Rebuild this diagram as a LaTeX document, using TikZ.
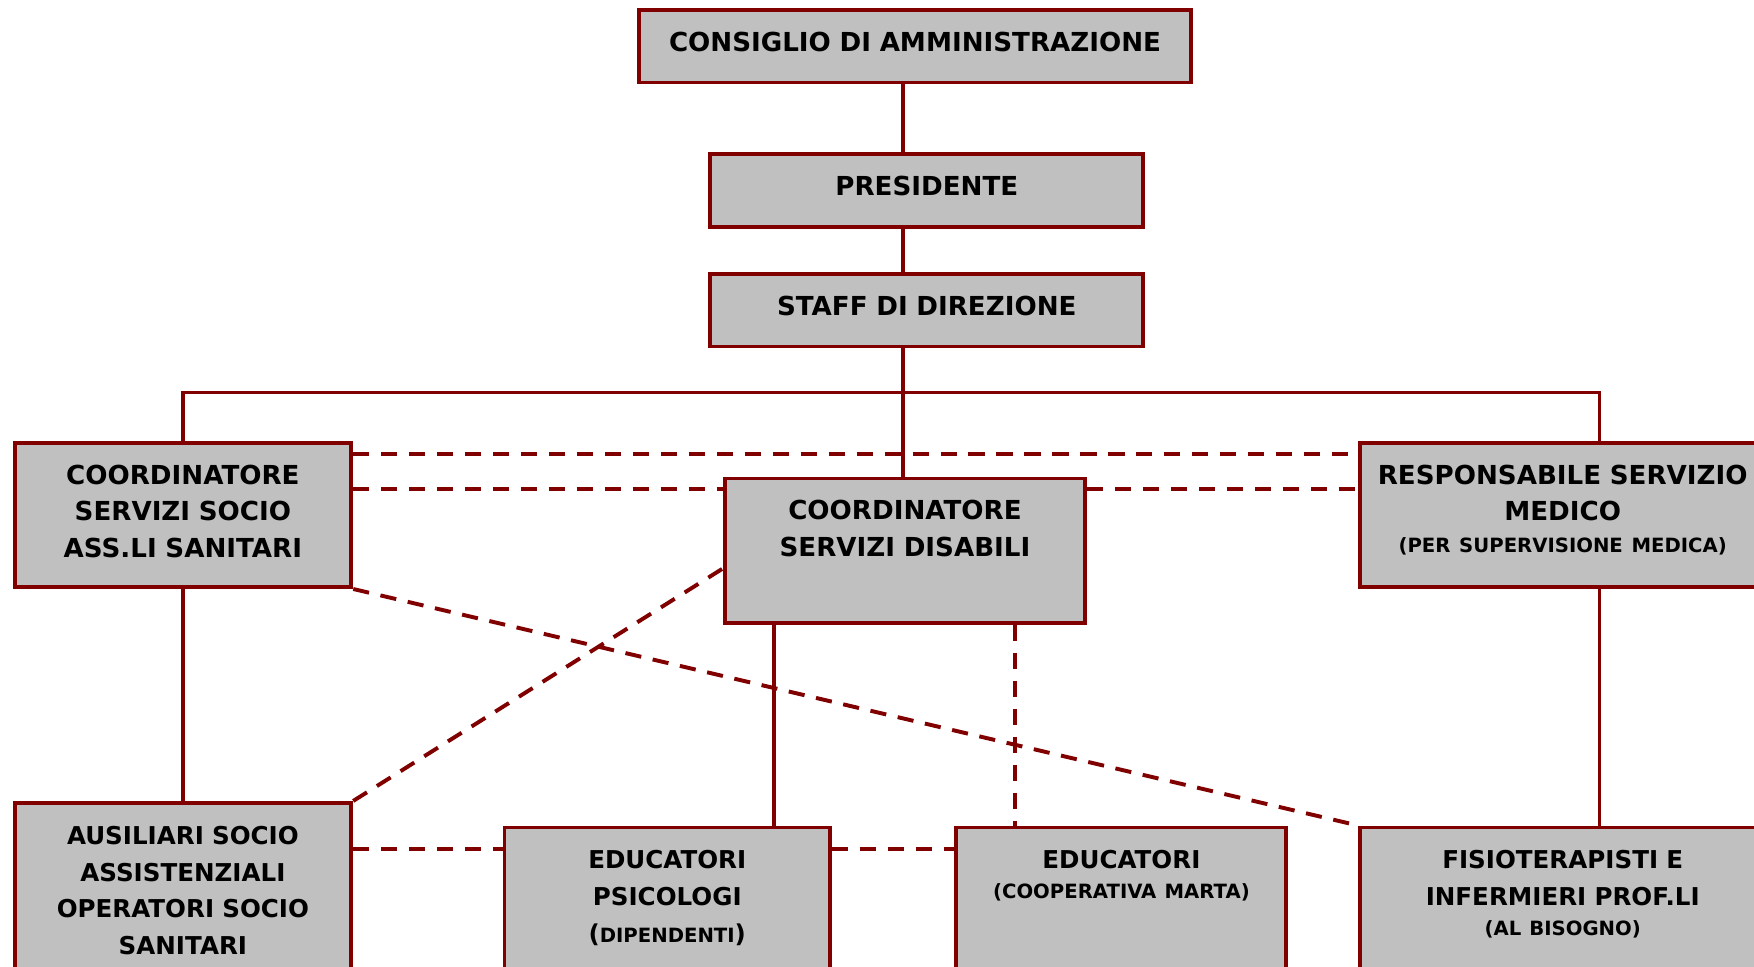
\documentclass[tikz,border=0pt]{standalone}
\usepackage{fontspec}
\setmainfont{DejaVu Sans}
\usetikzlibrary{calc}

\definecolor{orgred}{HTML}{800000}
\definecolor{orggray}{HTML}{C0C0C0}

\tikzset{
  orgbox/.style={draw=orgred, fill=orggray, line width=2pt, inner sep=0pt,
    align=center, anchor=north, text height=7.4mm,
    font=\bfseries\fontsize{13.3}{18.7}\selectfont},
  toprow/.style={orgbox, text depth=5.6mm},
  midrow/.style={orgbox, text depth=18.4mm},
  lowrow/.style={orgbox, text depth=40mm, font=\bfseries\fontsize{12.5}{18.7}\selectfont},
  link/.style={draw=orgred, line width=1.8pt},
  dashlink/.style={link, line width=2pt, dash pattern=on 2.9mm off 2.1mm},
}
\newcommand{\smalltxt}[1]{{\fontsize{10}{12}\selectfont #1}}

\begin{document}
\begin{tikzpicture}[x=0.2mm, y=-0.2mm]
	\clip (0,0) rectangle (1568,864);

	% vertici
	\node[toprow, text width=98.8mm] (cda) at (818,7) {CONSIGLIO DI AMMINISTRAZIONE};
	\node[toprow, text width=77.4mm] (pres) at (828.5,136) {PRESIDENTE};
	\node[toprow, text width=77.4mm] (staff) at (828.5,243) {STAFF DI DIREZIONE};

	% coordinatori
	\node[midrow, text width=60.2mm] (cssa) at (163.5,394) {COORDINATORE\\SERVIZI SOCIO\\ASS.LI SANITARI};
	\node[midrow, text width=64.4mm] (csd) at (809,426) {COORDINATORE\\SERVIZI DISABILI};
	\node[midrow, text width=72.4mm] (rsm) at (1397,394) {RESPONSABILE SERVIZIO\\MEDICO\\[-1mm]\smalltxt{(PER SUPERVISIONE MEDICA)}};

	% operatori
	\node[lowrow, text width=60.2mm] (aus) at (163.5,716) {AUSILIARI SOCIO\\ASSISTENZIALI\\OPERATORI SOCIO\\SANITARI};
	\node[lowrow, text width=58.2mm] (edupsi) at (596.5,738) {EDUCATORI\\PSICOLOGI\\(\smalltxt{DIPENDENTI})};
	\node[lowrow, text width=59mm] (educoop) at (1002.5,738) {EDUCATORI\\[-1.2mm]\smalltxt{(COOPERATIVA MARTA)}};
	\node[lowrow, text width=72.4mm] (fisio) at (1397,738) {FISIOTERAPISTI E\\INFERMIERI PROF.LI\\[-1.2mm]\smalltxt{(AL BISOGNO)}};

	\coordinate (spine) at (807,351);
	\coordinate (medbus) at (1430,351);
	\coordinate (psi) at (692,600);
	\coordinate (coop) at (907,600);
	\coordinate (dashA) at (0,406);
	\coordinate (dashB) at (0,437);
	\coordinate (dashC) at (0,759);

	% linee gerarchiche
	\draw[link] (cda.south -| spine) -- (pres.north -| spine);
	\draw[link] (pres.south -| spine) -- (staff.north -| spine);
	\draw[link] (staff.south -| spine) -- (csd.north -| spine);
	\draw[link] (cssa.north) -- (cssa.north |- spine) -- (medbus) -- (medbus |- rsm.north);
	\draw[link] (cssa.south) -- (aus.north);
	\draw[link] (rsm.south -| medbus) -- (fisio.north -| medbus);
	\draw[link] (csd.south -| psi) -- (edupsi.north -| psi);

	% collaborazioni
	\draw[dashlink] (csd.south -| coop) -- (educoop.north -| coop);
	\draw[dashlink] (cssa.east |- dashA) -- (rsm.west |- dashA);
	\draw[dashlink] (cssa.east |- dashB) -- (csd.west |- dashB);
	\draw[dashlink] (csd.east |- dashB) -- (rsm.west |- dashB);
	\draw[dashlink] (cssa.south east) -- (fisio.north west);
	\draw[dashlink] (aus.north east) -- ($(csd.north west)!0.62!(csd.south west)$);
	\draw[dashlink] (aus.east |- dashC) -- (edupsi.west |- dashC);
	\draw[dashlink] (edupsi.east |- dashC) -- (educoop.west |- dashC);

\end{tikzpicture}
\end{document}
